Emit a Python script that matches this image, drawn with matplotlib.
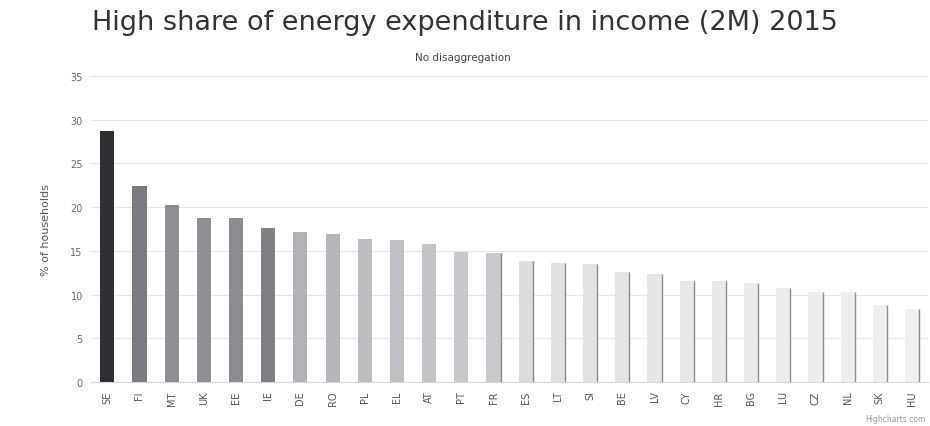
import matplotlib
matplotlib.use("Agg")
import matplotlib.pyplot as plt
import numpy as np

# data
countries = ["SE", "FI", "MT", "UK", "EE", "IE", "DE", "RO", "PL", "EL", "AT", "PT", "FR",
             "ES", "LT", "SI", "BE", "LV", "CY", "HR", "BG", "LU", "CZ", "NL", "SK", "HU"]
share = [28.7, 22.4, 20.2, 18.8, 18.7, 17.6, 17.2, 16.9, 16.3, 16.2, 15.8, 14.9, 14.8,
         13.8, 13.6, 13.5, 12.6, 12.3, 11.5, 11.5, 11.3, 10.7, 10.3, 10.3, 8.8, 8.4]
yticks = [0, 5, 10, 15, 20, 25, 30, 35]

# bar shades, dark to faded (scan look)
shades = ["#2e2e33", "#7a7a80", "#8d8d92", "#8e8e93", "#8c8c90", "#7f7f83", "#b3b3b8",
          "#b6b6bb", "#bcbcc0", "#bfbfc3", "#c3c3c8", "#c8c8cd", "#cacace",
          "#dcdce0", "#e0e0e4", "#e2e2e6", "#e4e4e8", "#e6e6ea", "#e8e8ec", "#e9e9ed",
          "#eaeaee", "#ececef", "#ededf0", "#eeeef1", "#efeff2", "#f0f0f3"]

fig = plt.figure(figsize=(9.3, 4.27), dpi=100)
ax = fig.add_axes([0.098, 0.103, 0.900, 0.717])

x = np.arange(len(countries))
w = 0.44
ax.bar(x, share, width=w, color=shades, zorder=2)
# faded bars keep a darker right edge in the scan
n0 = 12
ax.vlines(x[n0:] + w / 2, 0, share[n0:], color="#8c8c90", linewidth=1.0, zorder=3)

ax.set_xlim(-0.5, len(countries) - 0.5)
ax.set_ylim(0, 35)
ax.set_yticks(yticks)
ax.set_yticklabels([str(t) for t in yticks], fontsize=7, color="#666666")
ax.set_xticks(x)
ax.set_xticklabels(countries, rotation=90, fontsize=7, color="#555555")
ax.tick_params(axis="both", length=0, pad=6)
ax.yaxis.grid(True, color="#e6e6e6", linewidth=0.8, zorder=0)
for s in ["top", "right", "left"]:
    ax.spines[s].set_visible(False)
ax.spines["bottom"].set_color("#d8d8d8")

ax.set_ylabel("% of households", fontsize=8, color="#555555", labelpad=14)
fig.text(0.5, 0.945, "High share of energy expenditure in income (2M) 2015",
         ha="center", va="center", fontsize=19.5, color="#333333")
fig.text(0.498, 0.865, "No disaggregation", ha="center", va="center",
         fontsize=7.5, color="#444444")
fig.text(0.995, 0.008, "Highcharts.com", ha="right", va="bottom",
         fontsize=5.5, color="#999999")

fig.savefig("out.png", dpi=100, facecolor="white")
